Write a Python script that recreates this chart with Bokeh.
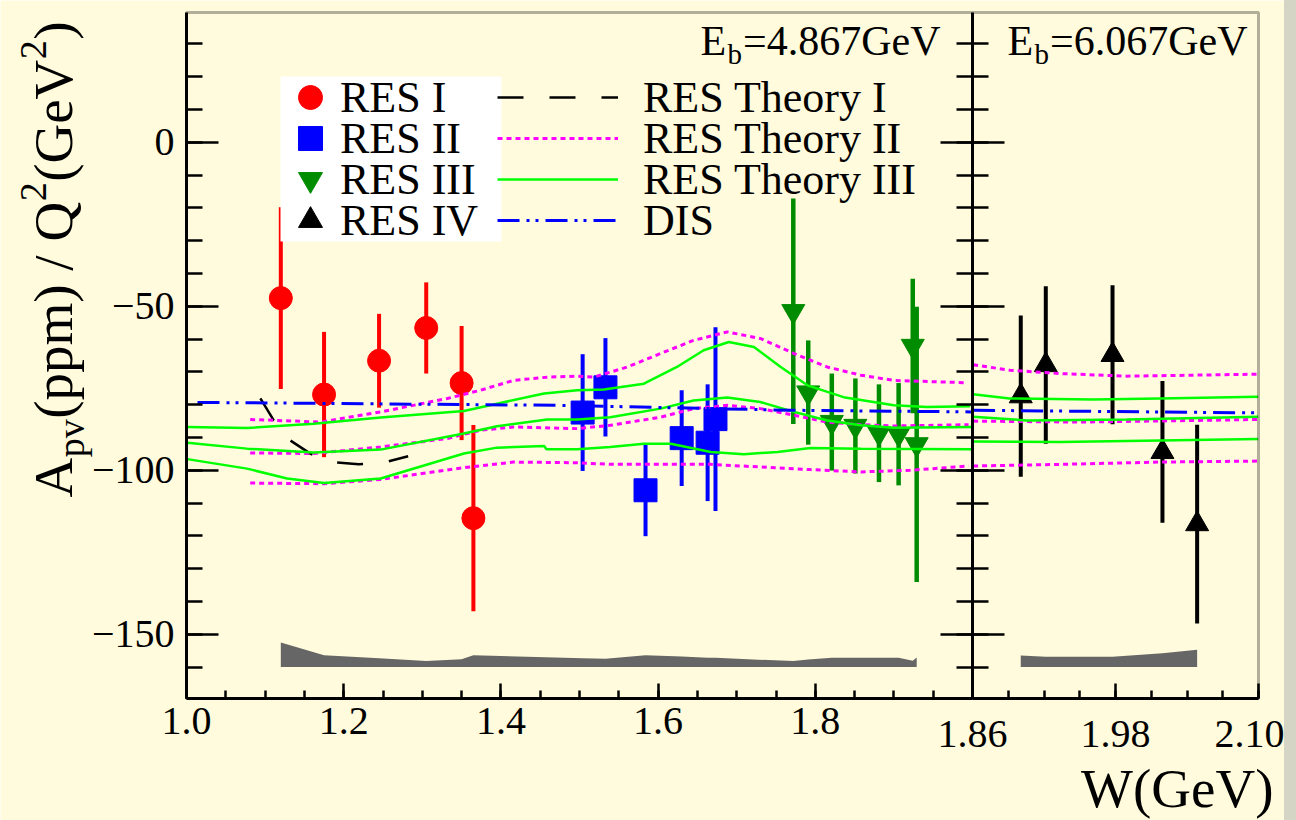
import math
from bokeh.plotting import figure
from bokeh.models import (Range1d, LinearAxis, FixedTicker, Legend, LegendItem, Label,
                          Spacer, PrintfTickFormatter, BoxAnnotation)
from bokeh.layouts import row
from bokeh.embed import file_html
from bokeh.resources import INLINE

# ---------------- data ----------------
# RES I  (E_b = 4.867 GeV)
res1_w = [1.120, 1.175, 1.245, 1.305, 1.350, 1.365]
res1_a = [-47.5, -76.9, -66.6, -56.6, -73.4, -114.6]
res1_e = [27.7, 19.1, 14.3, 13.9, 17.4, 28.4]
# RES II
res2_w = [1.504, 1.533, 1.584, 1.630, 1.663, 1.673]
res2_a = [-82.4, -74.7, -106.1, -90.2, -91.6, -84.4]
res2_e = [17.8, 15.0, 14.0, 14.6, 17.8, 28.0]
# RES III
res3_w = [1.772, 1.791, 1.821, 1.851, 1.881, 1.906, 1.924, 1.929]
res3_a = [-51.5, -76.3, -85.3, -86.5, -88.7, -89.0, -62.1, -92.1]
res3_e = [34.4, 15.9, 14.8, 14.5, 14.9, 15.6, 20.5, 42.0]
# RES IV (E_b = 6.067 GeV)
res4_w = [1.9005, 1.9215, 1.9775, 2.0194, 2.0485]
res4_a = [-77.4, -67.9, -64.8, -94.4, -116.4]
res4_e = [24.6, 24.0, 21.2, 21.6, 30.3]

# systematic error bands
sys_base = -160.0
sys4867_w = res1_w + res2_w + res3_w
sys4867_top = [-152.5, -156.4, -157.3, -158.2, -157.6, -156.4,
               -157.3, -157.5, -156.4, -156.8, -157.2, -157.2,
               -158.2, -157.7, -157.2, -157.2, -157.2, -157.2, -158.1, -157.1]
sys6067_w = res4_w
sys6067_top = [-156.5, -156.9, -156.9, -155.8, -154.7]

# RES Theory I (black dashed)
th1_w = [1.094, 1.111, 1.132, 1.158, 1.187, 1.219, 1.253, 1.282]
th1_a = [-78.1, -84.8, -90.9, -95.0, -97.5, -98.2, -97.5, -95.7]

# RES Theory II (magenta dotted) - three curves, E_b = 4.867
th2u_w = [1.081, 1.171, 1.247, 1.332, 1.374, 1.416, 1.459, 1.497, 1.518, 1.561,
          1.603, 1.645, 1.688, 1.730, 1.773, 1.815, 1.858, 1.900, 1.991]
th2u_a = [-84.5, -85.3, -82.2, -78.1, -75.6, -72.6, -71.6, -71.3, -71.6, -68.5,
          -64.4, -60.4, -57.8, -59.8, -64.4, -68.5, -71.0, -72.6, -73.3]
th2m_w = [1.081, 1.162, 1.247, 1.332, 1.374, 1.416, 1.497, 1.539, 1.603, 1.645,
          1.688, 1.730, 1.773, 1.815, 1.858, 1.900, 1.995]
th2m_a = [-94.7, -94.9, -92.9, -90.3, -87.8, -86.8, -87.3, -86.3, -83.8, -81.2,
          -80.2, -81.2, -83.2, -85.3, -86.1, -86.5, -86.1]
th2l_w = [1.081, 1.175, 1.247, 1.353, 1.416, 1.497, 1.539, 1.603, 1.667, 1.730,
          1.794, 1.858, 1.921, 1.995]
th2l_a = [-103.9, -104.1, -102.8, -99.2, -97.5, -97.7, -98.2, -98.2, -98.2, -99.0,
          -99.8, -100.5, -100.0, -98.7]
# RES Theory III (green solid) - three curves, E_b = 4.867
th3u_w = [1.001, 1.077, 1.162, 1.247, 1.353, 1.395, 1.455, 1.497, 1.531, 1.582,
          1.624, 1.658, 1.690, 1.722, 1.756, 1.790, 1.836, 1.900, 1.942, 1.997]
th3u_a = [-86.8, -87.1, -85.8, -83.9, -81.9, -79.7, -76.6, -75.6, -75.4, -73.6,
          -68.5, -63.4, -60.9, -62.4, -68.5, -74.1, -77.7, -80.2, -80.7, -80.5]
th3m_w = [1.001, 1.077, 1.162, 1.247, 1.353, 1.395, 1.459, 1.497, 1.539, 1.603,
          1.645, 1.688, 1.730, 1.773, 1.815, 1.858, 1.900, 1.999]
th3m_a = [-91.6, -93.4, -94.6, -93.7, -88.8, -86.6, -84.5, -84.5, -83.8, -81.2,
          -78.7, -77.8, -79.2, -82.2, -84.8, -86.3, -87.0, -86.8]
th3l_w = [1.001, 1.077, 1.128, 1.175, 1.247, 1.353, 1.395, 1.455, 1.458, 1.497,
          1.539, 1.582, 1.616, 1.667, 1.709, 1.752, 1.794, 1.858, 1.999]
th3l_a = [-96.6, -99.5, -102.5, -103.9, -102.5, -94.9, -93.1, -92.6, -93.6, -93.6,
          -92.9, -91.9, -91.9, -94.4, -95.1, -94.4, -93.2, -93.4, -93.6]
# DIS (blue dash-dot), E_b = 4.867
dis_w = [1.014, 1.476, 1.768, 1.998]
dis_a = [-79.3, -80.2, -81.7, -82.2]

# E_b = 6.067 GeV theory curves
r_th2u_w = [1.8605, 1.8913, 1.9333, 1.9892, 2.0451, 2.0997]
r_th2u_a = [-67.8, -69.5, -70.5, -71.3, -71.0, -70.7]
r_th2m_w = [1.8605, 1.9500, 2.0500, 2.0997]
r_th2m_a = [-85.0, -85.3, -84.8, -84.5]
r_th2l_w = [1.8605, 1.9333, 2.0172, 2.0997]
r_th2l_a = [-98.7, -98.2, -97.5, -97.2]
r_th3u_w = [1.8605, 1.8913, 1.9612, 2.0172, 2.0997]
r_th3u_a = [-76.8, -78.1, -78.4, -78.1, -77.6]
r_th3m_w = [1.8605, 1.9053, 1.9892, 2.0997]
r_th3m_a = [-83.7, -84.8, -84.5, -83.7]
r_th3l_w = [1.8605, 1.9333, 2.0172, 2.0997]
r_th3l_a = [-91.2, -91.4, -90.9, -90.5]
r_dis_w = [1.8605, 2.0997]
r_dis_a = [-81.7, -82.5]

# axes
left_x_ticks = [1.0, 1.2, 1.4, 1.6, 1.8]
left_x_minor = [round(1.0 + 0.05 * i, 2) for i in range(0, 20)]
right_x_ticks = [1.86, 1.98, 2.10]
right_x_minor = [round(1.86 + 0.03 * i, 2) for i in range(0, 9)]
y_ticks = [-150, -100, -50, 0]
y_tick_labels = ["\u2212150", "\u2212100", "\u221250", "0"]
y_minor = list(range(-160, 40, 10))
YLO, YHI = -169.6, 39.6
XL0, XL1 = 1.0, 2.0
XR0, XR1 = 1.86, 2.10

# ---------------- geometry / style ----------------
BG = "#fffbdc"
FONT = "Liberation Serif"
RED, BLUE, GREEN, BLACK = "#ff0000", "#0000ff", "#008c00", "#000000"
MAG, LGREEN = "#ff00ff", "#00ff00"

W_TOTAL, H_TOTAL = 1284, 820
FRAME_L, FRAME_R, FRAME_T, FRAME_B = 186, 1258, 12, 698
DIV_X = 972
PX_L = (DIV_X - FRAME_L) / (XL1 - XL0)
PX_R = (FRAME_R - DIV_X) / (XR1 - XR0)
PX_Y = (FRAME_B - FRAME_T) / (YHI - YLO)

# the plotting frame covers the whole canvas; the box is drawn explicitly
p = figure(width=W_TOTAL, height=H_TOTAL, output_backend="svg", toolbar_location=None,
           x_range=Range1d(XL0 - FRAME_L / PX_L, XL0 + (W_TOTAL - FRAME_L) / PX_L),
           y_range=Range1d(YLO - (H_TOTAL - FRAME_B) / PX_Y, YHI + FRAME_T / PX_Y),
           x_axis_type=None, y_axis_type=None,
           min_border_left=0, min_border_right=0, min_border_top=0, min_border_bottom=0,
           background_fill_color=BG, border_fill_color=BG)
p.extra_x_ranges = {"r": Range1d(XR0 - DIV_X / PX_R, XR0 + (W_TOTAL - DIV_X) / PX_R)}
p.outline_line_color = None

# frame box
p.add_layout(BoxAnnotation(left=FRAME_L, right=FRAME_R, top=H_TOTAL - FRAME_T,
                           bottom=H_TOTAL - FRAME_B, left_units="screen",
                           right_units="screen", top_units="screen", bottom_units="screen",
                           fill_color=None, line_color=BLACK, line_width=3, level="overlay"))


def style_axis(ax, font_size="40px"):
    ax.axis_line_width = 3
    ax.axis_line_color = BLACK
    ax.major_tick_line_width = 2.5
    ax.minor_tick_line_width = 2.5
    ax.major_tick_line_color = BLACK
    ax.minor_tick_line_color = BLACK
    ax.major_label_text_font = FONT
    ax.major_label_text_font_size = font_size
    ax.major_label_text_color = BLACK


# bottom axis, left panel
xb = LinearAxis(ticker=FixedTicker(ticks=left_x_ticks, minor_ticks=left_x_minor),
                formatter=PrintfTickFormatter(format="%.1f"), bounds=(XL0, XL1),
                fixed_location=YLO)
style_axis(xb)
xb.major_tick_in, xb.major_tick_out = 15, 0
xb.minor_tick_in, xb.minor_tick_out = 8, 0
xb.major_label_standoff = 9
p.add_layout(xb, "below")

# bottom axis, right panel
xr = LinearAxis(x_range_name="r",
                ticker=FixedTicker(ticks=right_x_ticks, minor_ticks=right_x_minor),
                formatter=PrintfTickFormatter(format="%.2f"), bounds=(XR0, XR1),
                fixed_location=YLO)
style_axis(xr)
xr.major_tick_in, xr.major_tick_out = 15, 0
xr.minor_tick_in, xr.minor_tick_out = 8, 0
xr.major_label_standoff = 22
p.add_layout(xr, "below")

# left y axis
yl = LinearAxis(ticker=FixedTicker(ticks=y_ticks, minor_ticks=y_minor),
                major_label_overrides=dict(zip(y_ticks, y_tick_labels)),
                bounds=(YLO, YHI), fixed_location=XL0)
style_axis(yl)
yl.major_tick_in, yl.major_tick_out = 32, 0
yl.minor_tick_in, yl.minor_tick_out = 16, 0
yl.major_label_standoff = 12
p.add_layout(yl, "left")

# divider between the panels (ticks on both sides)
ym = LinearAxis(ticker=FixedTicker(ticks=y_ticks, minor_ticks=y_minor),
                bounds=(YLO, YHI), fixed_location=XL1)
style_axis(ym)
ym.major_label_text_color = None
ym.major_tick_in, ym.major_tick_out = 32, 32
ym.minor_tick_in, ym.minor_tick_out = 16, 16
p.add_layout(ym, "left")

# ---------------- systematic bands ----------------
p.varea(x=sys4867_w, y1=[sys_base] * len(sys4867_w), y2=sys4867_top, fill_color="#666666")
p.varea(x=sys6067_w, y1=[sys_base] * len(sys6067_w), y2=sys6067_top, fill_color="#666666",
        x_range_name="r")


# ---------------- data points ----------------
def errbars(w, a, e, color, width, rname="default"):
    lo = [ai - ei for ai, ei in zip(a, e)]
    hi = [ai + ei for ai, ei in zip(a, e)]
    p.segment(x0=w, y0=lo, x1=w, y1=hi, line_color=color, line_width=width,
              x_range_name=rname)


errbars(res1_w, res1_a, res1_e, RED, 4)
errbars(res2_w, res2_a, res2_e, BLUE, 4)
errbars(res3_w, res3_a, res3_e, GREEN, 4.5)
errbars(res4_w, res4_a, res4_e, BLACK, 4, "r")

r_res1 = p.scatter(res1_w, res1_a, marker="circle", size=23, fill_color=RED, line_color=RED)
r_res2 = p.scatter(res2_w, res2_a, marker="square", size=23, fill_color=BLUE, line_color=BLUE)
r_res3 = p.scatter(res3_w, res3_a, marker="inverted_triangle", size=23,
                   fill_color=GREEN, line_color=GREEN)
r_res4 = p.scatter(res4_w, res4_a, marker="triangle", size=23, fill_color=BLACK,
                   line_color=BLACK, x_range_name="r")

# ---------------- theory curves ----------------
DOT = "5 4"
DASH = "26 26"
DASHDOT = "22 7 3 6 3 7"

l_th1 = p.line(th1_w, th1_a, line_color=BLACK, line_width=2.5, line_dash=DASH)
l_th2 = p.line(th2u_w, th2u_a, line_color=MAG, line_width=3, line_dash=DOT)
p.line(th2m_w, th2m_a, line_color=MAG, line_width=3, line_dash=DOT)
p.line(th2l_w, th2l_a, line_color=MAG, line_width=3, line_dash=DOT)
l_th3 = p.line(th3u_w, th3u_a, line_color=LGREEN, line_width=2.5)
p.line(th3m_w, th3m_a, line_color=LGREEN, line_width=2.5)
p.line(th3l_w, th3l_a, line_color=LGREEN, line_width=2.5)
l_dis = p.line(dis_w, dis_a, line_color=BLUE, line_width=3, line_dash=DASHDOT)

for ws, as_ in [(r_th2u_w, r_th2u_a), (r_th2m_w, r_th2m_a), (r_th2l_w, r_th2l_a)]:
    p.line(ws, as_, line_color=MAG, line_width=3, line_dash=DOT, x_range_name="r")
for ws, as_ in [(r_th3u_w, r_th3u_a), (r_th3m_w, r_th3m_a), (r_th3l_w, r_th3l_a)]:
    p.line(ws, as_, line_color=LGREEN, line_width=2.5, x_range_name="r")
p.line(r_dis_w, r_dis_a, line_color=BLUE, line_width=3, line_dash=DASHDOT, x_range_name="r")

# ---------------- legends ----------------
# white box behind the marker legend
p.add_layout(BoxAnnotation(left=280, right=501, top=H_TOTAL - 76, bottom=H_TOTAL - 241,
                           left_units="screen", right_units="screen", top_units="screen",
                           bottom_units="screen", fill_color="white", fill_alpha=1.0,
                           line_color=None))

ROW_CENTERS = [97, 138, 179, 220]   # page y of legend rows
GLYPH_H = 60
LEG_FONT = "44px"
marker_items = [("RES I", r_res1), ("RES II", r_res2), ("RES III", r_res3), ("RES IV", r_res4)]
line_items = [("RES Theory I", l_th1), ("RES Theory II", l_th2),
              ("RES Theory III", l_th3), ("DIS", l_dis)]
for (label, rend), cy in zip(marker_items, ROW_CENTERS):
    p.add_layout(Legend(items=[LegendItem(label=label, renderers=[rend])],
                        location=(280, H_TOTAL - (cy + GLYPH_H / 2)),
                        glyph_width=60, glyph_height=GLYPH_H, label_standoff=0,
                        padding=0, margin=0, spacing=0, border_line_color=None,
                        background_fill_alpha=0.0, label_text_font=FONT,
                        label_text_font_size=LEG_FONT, label_text_color=BLACK))
for (label, rend), cy in zip(line_items, ROW_CENTERS):
    p.add_layout(Legend(items=[LegendItem(label=label, renderers=[rend])],
                        location=(497, H_TOTAL - (cy + GLYPH_H / 2)),
                        glyph_width=121, glyph_height=GLYPH_H, label_standoff=25,
                        padding=0, margin=0, spacing=0, border_line_color=None,
                        background_fill_alpha=0.0, label_text_font=FONT,
                        label_text_font_size=LEG_FONT, label_text_color=BLACK))

# ---------------- texts ----------------
MID = 0.3375  # distance (em) from the text-box middle to the alphabetic baseline


def lab(x_page, base_page, text, size, align="left"):
    """horizontal text with its baseline at page y = base_page"""
    p.add_layout(Label(x=x_page, y=H_TOTAL - (base_page - MID * size),
                       x_units="screen", y_units="screen", text=text,
                       text_font=FONT, text_font_size=f"{size}px", text_color=BLACK,
                       text_align=align, text_baseline="alphabetic"))


def vlab(base_x_page, start_page_y, text, size):
    """text rotated 90 deg, reading upwards, baseline at page x = base_x_page"""
    p.add_layout(Label(x=base_x_page - MID * size, y=H_TOTAL - start_page_y,
                       x_units="screen", y_units="screen", text=text,
                       text_font=FONT, text_font_size=f"{size}px", text_color=BLACK,
                       text_align="left", text_baseline="alphabetic", angle=math.pi / 2))


# beam energy labels
lab(700, 55, "E", 42)
lab(727, 63, "b", 29)
lab(742.5, 55, "=4.867GeV", 42)
lab(1007, 55, "E", 42)
lab(1034, 63, "b", 29)
lab(1049.5, 55, "=6.067GeV", 42)

# x title
lab(1273, 807, "W(GeV)", 55, align="right")

# y title made of pieces: (text, size, baseline shift px, advance in em)
title_pieces = [("A", 55, 0, 0.722), ("pv", 38, 11, 1.0), ("(ppm) / Q", 55, 0, 3.944),
                ("2", 38, -26, 0.5), ("(GeV", 55, 0, 2.221), ("2", 38, -26, 0.5),
                (")", 55, 0, 0.333)]
ty = 497.0
for txt, sz, shift, adv in title_pieces:
    vlab(72 + shift, ty, txt, sz)
    ty -= adv * sz + 0.5

strip = Spacer(width=12, height=H_TOTAL, styles={"background-color": "#d5d5c6"})
layout = row(p, strip)

open("out.html", "w").write(file_html(layout, INLINE))
